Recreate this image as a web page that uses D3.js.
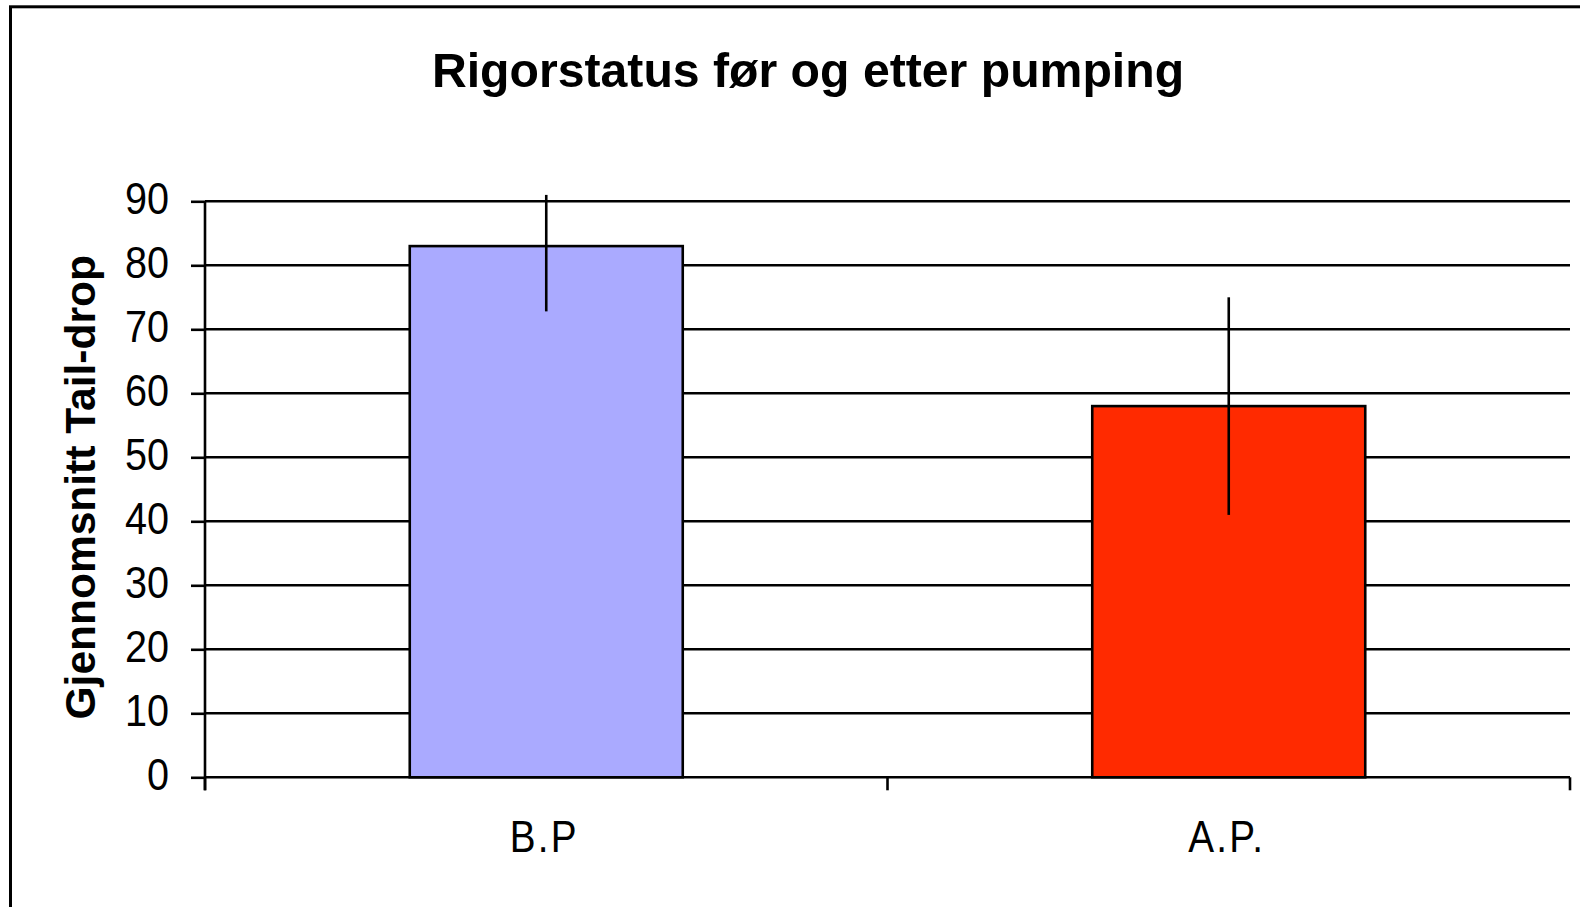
<!DOCTYPE html>
<html>
<head>
<meta charset="utf-8">
<script src="https://cdn.jsdelivr.net/npm/d3@7"></script>
<style>
  html, body { margin: 0; padding: 0; background: #fff; }
  svg { display: block; }
</style>
</head>
<body>
<svg id="chart" width="1580" height="907"></svg>
<script>
const categories = ["B.P", "A.P."];
const values = [83, 58];
const errLow = [72.8, 41];
const errHigh = [91, 75];
const yTicks = [0, 10, 20, 30, 40, 50, 60, 70, 80, 90];
const colors = ["#aaaaff", "#ff2a00"];
const title = "Rigorstatus før og etter pumping";
const yTitle = "Gjennomsnitt Tail-drop";

const svg = d3.select("#chart");
const font = "'Liberation Sans', Arial, sans-serif";
const sw = 2.6;

// outer chart border (left and top visible)
svg.append("rect")
  .attr("x", 10.5).attr("y", 6.8)
  .attr("width", 1600).attr("height", 1000)
  .attr("fill", "#fff").attr("stroke", "#000").attr("stroke-width", 3);

const pLeft = 205, pRight = 1570, pTop = 201.3, pBottom = 777.3;

const x = d3.scaleBand().domain(categories).range([pLeft, pRight])
  .paddingInner(0.6).paddingOuter(0.3);
const y = d3.scaleLinear().domain([0, 90]).range([pBottom, pTop]);

// gridlines
svg.append("g").selectAll("line").data(yTicks.filter(d => d > 0)).join("line")
  .attr("x1", pLeft).attr("x2", pRight)
  .attr("y1", d => y(d)).attr("y2", d => y(d))
  .attr("stroke", "#000").attr("stroke-width", sw);

// bars
svg.append("g").selectAll("rect").data(categories).join("rect")
  .attr("x", d => x(d))
  .attr("y", (d, i) => y(values[i]))
  .attr("width", x.bandwidth())
  .attr("height", (d, i) => y(0) - y(values[i]))
  .attr("fill", (d, i) => colors[i])
  .attr("stroke", "#000").attr("stroke-width", sw);

// error bars
svg.append("g").selectAll("line").data(categories).join("line")
  .attr("x1", d => x(d) + x.bandwidth() / 2)
  .attr("x2", d => x(d) + x.bandwidth() / 2)
  .attr("y1", (d, i) => y(errHigh[i]))
  .attr("y2", (d, i) => y(errLow[i]))
  .attr("stroke", "#000").attr("stroke-width", sw);

// y axis
const yAxis = svg.append("g").attr("transform", `translate(${pLeft},0)`)
  .call(d3.axisLeft(y).tickValues(yTicks).tickSize(14).tickPadding(0).tickFormat(d3.format("d")));
yAxis.select(".domain").attr("stroke", "#000").attr("stroke-width", sw)
  .attr("d", `M0,${pTop}V${pBottom + 13}`);
yAxis.selectAll(".tick line").attr("stroke", "#000").attr("stroke-width", sw);
yAxis.selectAll(".tick text")
  .attr("font-family", font).attr("font-size", 44).attr("fill", "#000")
  .attr("text-anchor", "end").attr("dy", null).attr("x", null)
  .attr("transform", "translate(-36,12) scale(0.9,1)");

// x axis
svg.append("line").attr("x1", pLeft).attr("x2", pRight)
  .attr("y1", pBottom).attr("y2", pBottom)
  .attr("stroke", "#000").attr("stroke-width", sw);
const xTickPos = [pLeft, (pLeft + pRight) / 2, pRight];
svg.append("g").selectAll("line").data(xTickPos).join("line")
  .attr("x1", d => d).attr("x2", d => d)
  .attr("y1", pBottom).attr("y2", pBottom + 13)
  .attr("stroke", "#000").attr("stroke-width", sw);
svg.append("g").selectAll("text").data(categories).join("text")
  .attr("transform", d => `translate(${x(d) + x.bandwidth() / 2 - 2},851.5) scale(0.88,1)`)
  .attr("text-anchor", "middle")
  .attr("letter-spacing", 2.5)
  .attr("font-family", font).attr("font-size", 44).attr("fill", "#000")
  .text(d => d);

// title
svg.append("text").attr("x", 808).attr("y", 86.7)
  .attr("text-anchor", "middle")
  .attr("font-family", font).attr("font-weight", "bold").attr("font-size", 48.2)
  .attr("fill", "#000").text(title);

// y title
svg.append("text")
  .attr("transform", `translate(95,${(pTop + pBottom) / 2 - 2}) rotate(-90)`)
  .attr("text-anchor", "middle")
  .attr("font-family", font).attr("font-weight", "bold").attr("font-size", 42.5)
  .attr("fill", "#000").text(yTitle);
</script>
</body>
</html>
